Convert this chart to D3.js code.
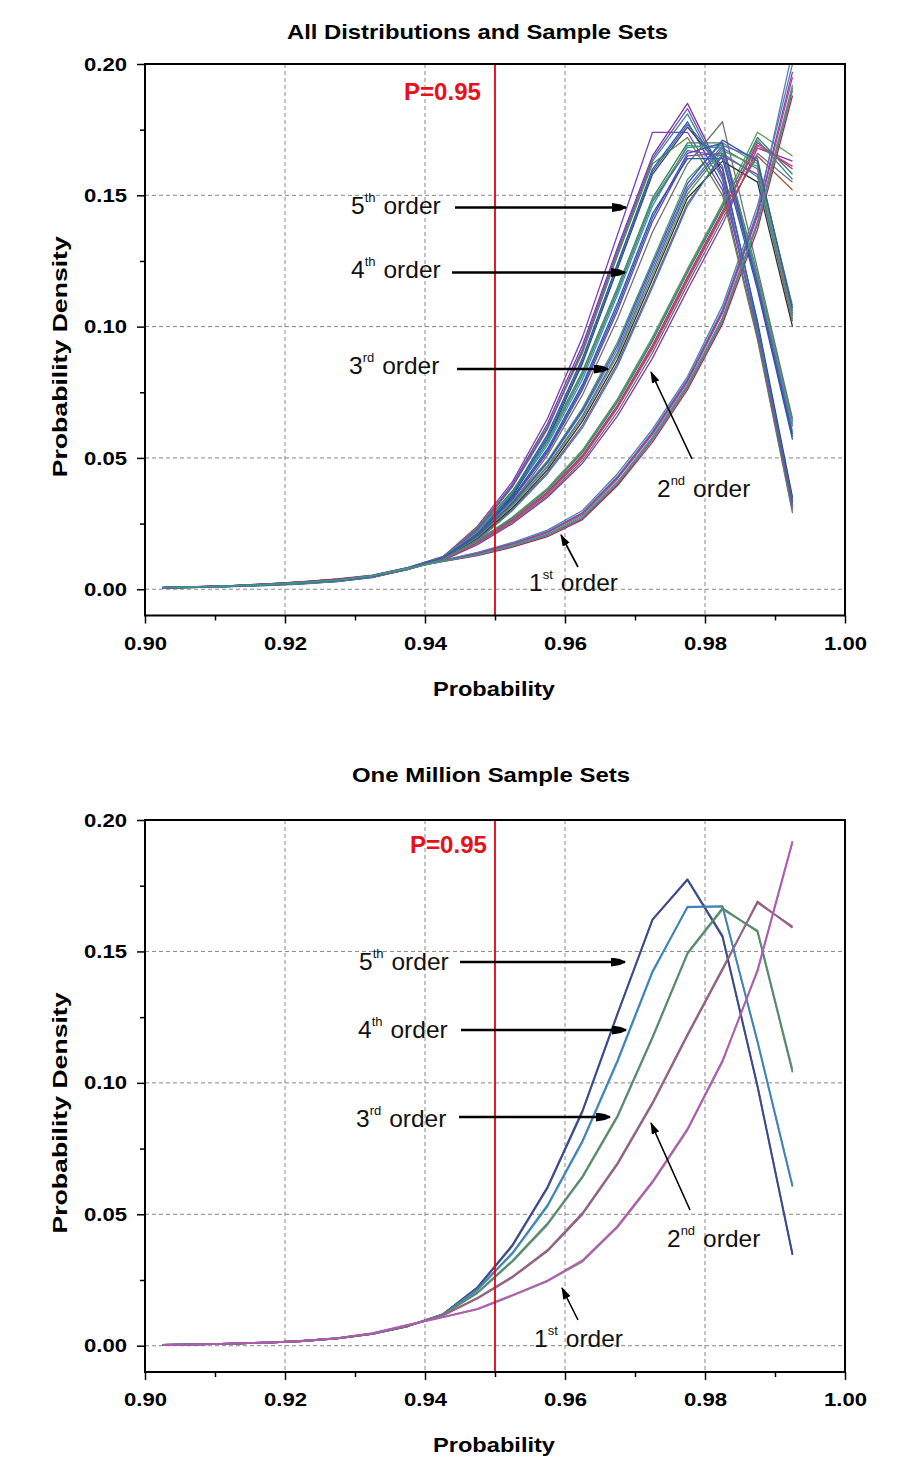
<!DOCTYPE html>
<html><head><meta charset="utf-8">
<script src="https://cdn.jsdelivr.net/npm/d3@7"></script>
<style>
body{margin:0;background:#fff}
svg{display:block}
text{font-family:"Liberation Sans",Arial,sans-serif}
</style></head>
<body><svg id="chart" width="907" height="1475"></svg>
<script>
// ---------- DATA ----------
const probability = [0.9025,0.9075,0.9125,0.9175,0.9225,0.9275,0.9325,0.9375,0.9425,0.9475,0.9525,0.9575,0.9625,0.9675,0.9725,0.9775,0.9825,0.9875,0.9925];
const xTicks = [0.90,0.92,0.94,0.96,0.98,1.00];
const xMinorTicks = [0.91,0.93,0.95,0.97,0.99];
const yTicks = [0.00,0.05,0.10,0.15,0.20];
const yMinorTicks = [0.025,0.075,0.125,0.175];
const xGrid = [0.92,0.94,0.96,0.98];
const yGrid = [0.00,0.05,0.10,0.15];
const markerP = 0.95;
const orderNums = ['5','4','3','2','1'];
const orderSups = ['th','th','rd','nd','st'];

// All distributions and sample sets (top panel)
const top5a = [0.0005,0.0008,0.0012,0.0017,0.0023,0.0032,0.0048,0.0078,0.0120,0.0230,0.0400,0.0630,0.0930,0.1300,0.1650,0.1850,0.1580,0.0980,0.0320];
const top5b = [0.0006,0.0009,0.0014,0.0019,0.0026,0.0036,0.0052,0.0082,0.0124,0.0215,0.0370,0.0590,0.0880,0.1240,0.1600,0.1780,0.1540,0.1000,0.0340];
const top5c = [0.0004,0.0007,0.0011,0.0015,0.0021,0.0029,0.0044,0.0076,0.0122,0.0240,0.0410,0.0650,0.0960,0.1350,0.1740,0.1740,0.1520,0.0960,0.0300];
const top5d = [0.0007,0.0010,0.0013,0.0020,0.0028,0.0038,0.0050,0.0080,0.0118,0.0205,0.0355,0.0570,0.0860,0.1220,0.1580,0.1760,0.1600,0.1020,0.0350];
const top5e = [0.0005,0.0007,0.0010,0.0014,0.0020,0.0030,0.0047,0.0077,0.0121,0.0225,0.0390,0.0610,0.0910,0.1280,0.1630,0.1810,0.1560,0.0990,0.0330];
const top5f = [0.0006,0.0008,0.0012,0.0018,0.0025,0.0034,0.0049,0.0079,0.0123,0.0235,0.0395,0.0620,0.0900,0.1270,0.1620,0.1720,0.1500,0.0950,0.0290];
const top5g = [0.0005,0.0008,0.0012,0.0016,0.0022,0.0031,0.0046,0.0077,0.0121,0.0228,0.0392,0.0615,0.0915,0.1290,0.1640,0.1830,0.1570,0.0970,0.0310];
const top5h = [0.0006,0.0009,0.0013,0.0018,0.0024,0.0033,0.0049,0.0079,0.0119,0.0212,0.0362,0.0580,0.0870,0.1230,0.1590,0.1770,0.1610,0.1010,0.0330];

const top4a = [0.0005,0.0008,0.0012,0.0017,0.0024,0.0033,0.0048,0.0077,0.0118,0.0215,0.0360,0.0550,0.0800,0.1120,0.1460,0.1690,0.1680,0.1180,0.0600];
const top4b = [0.0006,0.0009,0.0013,0.0018,0.0025,0.0035,0.0051,0.0080,0.0120,0.0205,0.0340,0.0520,0.0760,0.1060,0.1400,0.1650,0.1660,0.1160,0.0580];
const top4c = [0.0004,0.0007,0.0011,0.0016,0.0022,0.0030,0.0046,0.0075,0.0119,0.0225,0.0375,0.0570,0.0830,0.1150,0.1490,0.1700,0.1700,0.1200,0.0640];
const top4d = [0.0006,0.0009,0.0012,0.0017,0.0023,0.0031,0.0047,0.0079,0.0116,0.0200,0.0330,0.0510,0.0740,0.1030,0.1360,0.1620,0.1780,0.1220,0.0650];
const top4e = [0.0005,0.0008,0.0011,0.0016,0.0024,0.0034,0.0050,0.0078,0.0117,0.0210,0.0350,0.0535,0.0780,0.1090,0.1430,0.1640,0.1640,0.1140,0.0570];
const top4f = [0.0007,0.0010,0.0014,0.0020,0.0027,0.0037,0.0053,0.0081,0.0121,0.0220,0.0365,0.0560,0.0815,0.1135,0.1475,0.1670,0.1650,0.1170,0.0620];
const top4g = [0.0005,0.0008,0.0012,0.0017,0.0023,0.0032,0.0049,0.0078,0.0119,0.0218,0.0368,0.0565,0.0822,0.1142,0.1482,0.1682,0.1690,0.1190,0.0630];
const top4h = [0.0006,0.0009,0.0012,0.0018,0.0025,0.0034,0.0050,0.0079,0.0118,0.0208,0.0345,0.0528,0.0770,0.1075,0.1415,0.1660,0.1700,0.1150,0.0590];

const top3a = [0.0005,0.0008,0.0012,0.0017,0.0023,0.0032,0.0048,0.0077,0.0116,0.0200,0.0320,0.0470,0.0660,0.0900,0.1210,0.1520,0.1680,0.1600,0.1050];
const top3b = [0.0006,0.0009,0.0013,0.0019,0.0026,0.0035,0.0050,0.0079,0.0115,0.0190,0.0305,0.0445,0.0625,0.0860,0.1160,0.1470,0.1650,0.1580,0.1020];
const top3c = [0.0004,0.0007,0.0011,0.0016,0.0022,0.0031,0.0047,0.0076,0.0118,0.0210,0.0335,0.0490,0.0690,0.0940,0.1250,0.1560,0.1700,0.1620,0.1080];
const top3d = [0.0005,0.0009,0.0012,0.0018,0.0025,0.0034,0.0049,0.0078,0.0114,0.0195,0.0310,0.0455,0.0640,0.0875,0.1180,0.1490,0.1630,0.1550,0.1000];
const top3e = [0.0007,0.0010,0.0014,0.0019,0.0027,0.0036,0.0051,0.0080,0.0117,0.0205,0.0325,0.0480,0.0675,0.0915,0.1225,0.1530,0.1690,0.1640,0.1060];
const top3f = [0.0006,0.0008,0.0011,0.0015,0.0021,0.0030,0.0046,0.0075,0.0113,0.0185,0.0300,0.0440,0.0615,0.0850,0.1150,0.1460,0.1660,0.1570,0.1040];
const top3g = [0.0005,0.0008,0.0012,0.0017,0.0024,0.0033,0.0048,0.0078,0.0115,0.0198,0.0318,0.0465,0.0652,0.0890,0.1195,0.1505,0.1670,0.1610,0.1030];
const top3h = [0.0006,0.0009,0.0013,0.0018,0.0025,0.0034,0.0050,0.0079,0.0116,0.0203,0.0328,0.0485,0.0682,0.0928,0.1238,0.1545,0.1710,0.1630,0.1070];

const top2a = [0.0005,0.0008,0.0012,0.0017,0.0024,0.0033,0.0049,0.0076,0.0112,0.0180,0.0265,0.0370,0.0510,0.0700,0.0930,0.1190,0.1440,0.1700,0.1600];
const top2b = [0.0006,0.0009,0.0013,0.0018,0.0025,0.0036,0.0052,0.0079,0.0110,0.0175,0.0255,0.0355,0.0490,0.0675,0.0900,0.1160,0.1410,0.1660,0.1550];
const top2c = [0.0004,0.0007,0.0011,0.0016,0.0022,0.0031,0.0047,0.0075,0.0114,0.0185,0.0275,0.0385,0.0530,0.0725,0.0960,0.1220,0.1470,0.1740,0.1650];
const top2d = [0.0007,0.0010,0.0014,0.0020,0.0028,0.0038,0.0051,0.0078,0.0109,0.0170,0.0250,0.0350,0.0480,0.0660,0.0880,0.1140,0.1390,0.1680,0.1630];
const top2e = [0.0005,0.0008,0.0012,0.0016,0.0023,0.0032,0.0048,0.0077,0.0113,0.0182,0.0270,0.0378,0.0520,0.0712,0.0945,0.1205,0.1455,0.1720,0.1580];
const top2f = [0.0006,0.0009,0.0013,0.0019,0.0026,0.0035,0.0050,0.0076,0.0111,0.0178,0.0260,0.0362,0.0500,0.0690,0.0915,0.1175,0.1425,0.1650,0.1520];
const top2g = [0.0005,0.0008,0.0012,0.0017,0.0024,0.0034,0.0050,0.0077,0.0112,0.0179,0.0262,0.0366,0.0505,0.0695,0.0922,0.1182,0.1432,0.1690,0.1610];
const top2h = [0.0006,0.0009,0.0013,0.0018,0.0025,0.0035,0.0051,0.0078,0.0113,0.0183,0.0272,0.0380,0.0525,0.0718,0.0952,0.1212,0.1462,0.1710,0.1560];

const top1a = [0.0005,0.0008,0.0012,0.0017,0.0024,0.0034,0.0050,0.0079,0.0108,0.0135,0.0170,0.0215,0.0285,0.0420,0.0590,0.0790,0.1050,0.1420,0.1950];
const top1b = [0.0006,0.0009,0.0013,0.0019,0.0026,0.0036,0.0053,0.0081,0.0106,0.0130,0.0165,0.0205,0.0270,0.0400,0.0570,0.0770,0.1020,0.1390,0.1900];
const top1c = [0.0004,0.0007,0.0011,0.0016,0.0023,0.0032,0.0048,0.0077,0.0110,0.0140,0.0178,0.0225,0.0300,0.0440,0.0610,0.0810,0.1080,0.1460,0.2000];
const top1d = [0.0007,0.0010,0.0014,0.0020,0.0029,0.0039,0.0054,0.0082,0.0105,0.0128,0.0160,0.0200,0.0265,0.0395,0.0560,0.0760,0.1010,0.1370,0.1880];
const top1e = [0.0005,0.0008,0.0012,0.0018,0.0025,0.0035,0.0051,0.0080,0.0109,0.0138,0.0172,0.0220,0.0292,0.0430,0.0600,0.0800,0.1065,0.1440,0.2050];
const top1f = [0.0006,0.0008,0.0012,0.0017,0.0024,0.0033,0.0049,0.0078,0.0107,0.0133,0.0168,0.0210,0.0280,0.0410,0.0580,0.0780,0.1035,0.1400,0.1920];
const top1g = [0.0005,0.0008,0.0012,0.0018,0.0025,0.0035,0.0051,0.0080,0.0107,0.0136,0.0174,0.0218,0.0290,0.0425,0.0595,0.0795,0.1058,0.1430,0.1970];
const top1h = [0.0006,0.0009,0.0013,0.0018,0.0025,0.0035,0.0052,0.0080,0.0106,0.0131,0.0166,0.0208,0.0275,0.0405,0.0575,0.0775,0.1028,0.1395,0.1910];

// One million sample sets (bottom panel)
const mil5a = [0.0003,0.0005,0.0008,0.0012,0.0018,0.0028,0.0045,0.0074,0.0118,0.0220,0.0380,0.0600,0.0890,0.1260,0.1620,0.1775,0.1560,0.0990,0.0350];
const mil5b = [0.0003,0.0005,0.0008,0.0012,0.0018,0.0028,0.0046,0.0075,0.0119,0.0223,0.0384,0.0604,0.0895,0.1265,0.1622,0.1772,0.1555,0.0985,0.0345];
const mil4a = [0.0003,0.0005,0.0008,0.0012,0.0018,0.0028,0.0045,0.0074,0.0117,0.0212,0.0350,0.0530,0.0775,0.1080,0.1420,0.1670,0.1670,0.1160,0.0610];
const mil4b = [0.0003,0.0005,0.0008,0.0012,0.0018,0.0029,0.0046,0.0075,0.0118,0.0215,0.0354,0.0535,0.0780,0.1086,0.1425,0.1668,0.1672,0.1155,0.0605];
const mil3a = [0.0003,0.0005,0.0008,0.0012,0.0018,0.0028,0.0045,0.0074,0.0116,0.0200,0.0320,0.0460,0.0640,0.0870,0.1170,0.1490,0.1660,0.1580,0.1050];
const mil3b = [0.0003,0.0005,0.0008,0.0012,0.0018,0.0028,0.0045,0.0075,0.0117,0.0203,0.0324,0.0465,0.0645,0.0875,0.1175,0.1495,0.1665,0.1575,0.1040];
const mil2a = [0.0003,0.0005,0.0008,0.0012,0.0018,0.0028,0.0045,0.0074,0.0114,0.0180,0.0260,0.0360,0.0500,0.0690,0.0920,0.1180,0.1430,0.1690,0.1590];
const mil2b = [0.0003,0.0005,0.0008,0.0012,0.0018,0.0028,0.0046,0.0075,0.0115,0.0182,0.0263,0.0364,0.0505,0.0695,0.0925,0.1185,0.1435,0.1685,0.1595];
const mil1a = [0.0003,0.0005,0.0008,0.0012,0.0018,0.0029,0.0047,0.0078,0.0108,0.0138,0.0190,0.0245,0.0320,0.0450,0.0620,0.0820,0.1080,0.1430,0.1920];
const mil1b = [0.0003,0.0005,0.0008,0.0012,0.0018,0.0029,0.0048,0.0079,0.0109,0.0140,0.0193,0.0248,0.0325,0.0455,0.0625,0.0825,0.1085,0.1425,0.1915];

// ---------- SERIES TABLES ----------
const topGroups = [
  [top5a,top5b,top5c,top5d,top5e,top5f,top5g,top5h],
  [top4a,top4b,top4c,top4d,top4e,top4f,top4g,top4h],
  [top3a,top3b,top3c,top3d,top3e,top3f,top3g,top3h],
  [top2a,top2b,top2c,top2d,top2e,top2f,top2g,top2h],
  [top1a,top1b,top1c,top1d,top1e,top1f,top1g,top1h]
];
const topColors = [
  ['#6b3fa0','#3a4fb0','#7a3fc0','#404060','#2f8f8f','#5a8a3a','#8a4ab8','#2a6ab0'],
  ['#2a9ab0','#5f4fa8','#3f7f5f','#707070','#2060a0','#8050a0','#38a878','#4a4ab8'],
  ['#3d6fb0','#a03a8a','#4a9a7a','#303030','#7060c0','#2a8aa0','#5a9a4a','#3a5aa0'],
  ['#b03060','#6a6a9a','#5a9a5a','#8a3a9a','#307a8a','#9a5a3a','#c04080','#508a70'],
  ['#c040b0','#7a5ab0','#4a8a9a','#a03050','#5a7ac0','#6a9a4a','#9a3ab0','#3a9a8a']
];
const topSeries = [];
for (let i = 0; i < 8; i++) for (let o = 0; o < 5; o++) topSeries.push({values: topGroups[o][i], color: topColors[o][i]});

const milGroups = [[mil5a,mil5b],[mil4a,mil4b],[mil3a,mil3b],[mil2a,mil2b],[mil1a,mil1b]];
const milColors = [['#4f5f80','#3e4a8c'],['#3aa9b9','#4a7fb5'],['#6a9a84','#5a8a6a'],['#a8506e','#8a6a8a'],['#8c8c8c','#b45ab4']];
const milSeries = [];
for (let i = 0; i < 2; i++) for (let o = 0; o < 5; o++) milSeries.push({values: milGroups[o][i], color: milColors[o][i]});

// ---------- DRAWING ----------
const svg = d3.select('#chart');
const defs = svg.append('defs');
defs.append('marker').attr('id','headBig').attr('viewBox','0 0 15 9').attr('refX',14).attr('refY',4.5)
  .attr('markerWidth',15).attr('markerHeight',9).attr('markerUnits','userSpaceOnUse').attr('orient','auto')
  .append('path').attr('d','M0,0 L9,1.5 L15,4.5 L9,7.5 L0,9 Z').attr('fill','#000');
defs.append('marker').attr('id','headSmall').attr('viewBox','0 0 12 8').attr('refX',11).attr('refY',4)
  .attr('markerWidth',12).attr('markerHeight',8).attr('markerUnits','userSpaceOnUse').attr('orient','auto')
  .append('path').attr('d','M0,0 L12,4 L0,8 Z').attr('fill','#000');

const panels = [
  {id:'a', top:64, bottom:615.5, title:'All Distributions and Sample Sets', titleX:477.5, titleY:39, titleW:381,
   series: topSeries, lw: 1.3, pX:404, pY:100,
   ann:[{x:351,y:214,ax1:455,ay1:207.5,ax2:626,ay2:207.5,big:true},
        {x:351,y:278,ax1:452,ay1:272.5,ax2:625,ay2:272.5,big:true},
        {x:349,y:374,ax1:457,ay1:369,ax2:608,ay2:369,big:true},
        {x:657,y:497,ax1:692,ay1:459,ax2:651,ay2:372,big:false},
        {x:529,y:591,ax1:578,ay1:567,ax2:561,ay2:535,big:false}]},
  {id:'b', top:820, bottom:1372, title:'One Million Sample Sets', titleX:491, titleY:782, titleW:278,
   series: milSeries, lw: 1.8, pX:410, pY:853,
   ann:[{x:359,y:970,ax1:460,ay1:962,ax2:625,ay2:962,big:true},
        {x:358,y:1038,ax1:461,ay1:1030,ax2:626,ay2:1030,big:true},
        {x:356,y:1127,ax1:459,ay1:1117,ax2:610,ay2:1117,big:true},
        {x:667,y:1247,ax1:690,ay1:1210,ax2:651,ay2:1123,big:false},
        {x:534,y:1347,ax1:578,ay1:1320,ax2:562,ay2:1288,big:false}]}
];

panels.forEach(p => {
  const x = d3.scaleLinear().domain([0.90,1.00]).range([145,845]);
  const y = d3.scaleLinear().domain([-0.01,0.20]).range([p.bottom,p.top]);
  const g = svg.append('g');
  const clipId = 'clip-' + p.id;
  defs.append('clipPath').attr('id',clipId).append('rect')
    .attr('x',145).attr('y',p.top).attr('width',700).attr('height',p.bottom-p.top);

  // grid
  g.append('g').selectAll('line').data(xGrid).join('line')
    .attr('x1',d=>x(d)).attr('x2',d=>x(d)).attr('y1',p.top).attr('y2',p.bottom)
    .attr('stroke','#7a7a7a').attr('stroke-width',0.9).attr('stroke-dasharray','4,3');
  g.append('g').selectAll('line').data(yGrid).join('line')
    .attr('x1',145).attr('x2',845).attr('y1',d=>y(d)).attr('y2',d=>y(d))
    .attr('stroke','#7a7a7a').attr('stroke-width',0.9).attr('stroke-dasharray','4,3');

  // curves
  const line = d3.line().x((d,i)=>x(probability[i])).y(d=>y(d));
  g.append('g').attr('clip-path',`url(#${clipId})`).selectAll('path').data(p.series).join('path')
    .attr('d',d=>line(d.values)).attr('fill','none').attr('stroke',d=>d.color)
    .attr('stroke-width',p.lw).attr('stroke-linejoin','round');

  // red P line
  g.append('line').attr('x1',x(markerP)).attr('x2',x(markerP)).attr('y1',p.top).attr('y2',p.bottom)
    .attr('stroke','#e8000b').attr('stroke-width',1.8);
  g.append('text').attr('x',p.pX).attr('y',p.pY).attr('font-size',23).attr('font-weight','bold')
    .attr('fill','#e8101a').attr('textLength',77).attr('lengthAdjust','spacingAndGlyphs').text('P=' + markerP.toFixed(2));

  // frame
  g.append('rect').attr('x',145).attr('y',p.top).attr('width',700).attr('height',p.bottom-p.top)
    .attr('fill','none').attr('stroke','#000').attr('stroke-width',2);

  // axes
  const ax = g.append('g').attr('transform',`translate(0,${p.bottom})`)
    .call(d3.axisBottom(x).tickValues(xTicks).tickSize(8).tickPadding(13).tickFormat(d3.format('.2f')));
  const axm = g.append('g').attr('transform',`translate(0,${p.bottom})`)
    .call(d3.axisBottom(x).tickValues(xMinorTicks).tickSize(5).tickFormat(''));
  const ay = g.append('g').attr('transform','translate(145,0)')
    .call(d3.axisLeft(y).tickValues(yTicks).tickSize(8).tickPadding(10).tickFormat(d3.format('.2f')));
  const aym = g.append('g').attr('transform','translate(145,0)')
    .call(d3.axisLeft(y).tickValues(yMinorTicks).tickSize(5).tickFormat(''));
  [ax,axm,ay,aym].forEach(a => {
    a.select('.domain').remove();
    a.selectAll('line').attr('stroke','#000').attr('stroke-width',1.5);
    a.selectAll('text').attr('font-size',19).attr('font-weight','bold').attr('fill','#000')
      .attr('font-family','"Liberation Sans",Arial,sans-serif')
      .attr('textLength',43).attr('lengthAdjust','spacingAndGlyphs');
  });

  // titles
  g.append('text').attr('x',p.titleX).attr('y',p.titleY).attr('text-anchor','middle')
    .attr('font-size',21).attr('font-weight','bold').attr('textLength',p.titleW).attr('lengthAdjust','spacingAndGlyphs')
    .text(p.title);
  g.append('text').attr('x',494).attr('y',p.bottom + 80).attr('text-anchor','middle')
    .attr('font-size',21).attr('font-weight','bold').attr('textLength',122).attr('lengthAdjust','spacingAndGlyphs')
    .text('Probability');
  const cy = (p.top + p.bottom) / 2 + 17;
  g.append('text').attr('transform',`translate(67,${cy}) rotate(-90)`).attr('text-anchor','middle')
    .attr('font-size',21).attr('font-weight','bold').attr('textLength',241).attr('lengthAdjust','spacingAndGlyphs')
    .text('Probability Density');

  // annotations
  p.ann.forEach((a,i) => {
    const t = g.append('text').attr('x',a.x).attr('y',a.y).attr('font-size',24.5).attr('fill','#111');
    t.append('tspan').text(orderNums[i]);
    t.append('tspan').attr('font-size',13).attr('dy',-12).text(orderSups[i]);
    t.append('tspan').attr('dy',12).attr('dx',8).text('order');
    g.append('line').attr('x1',a.ax1).attr('y1',a.ay1).attr('x2',a.ax2).attr('y2',a.ay2)
      .attr('stroke','#000').attr('stroke-width',a.big ? 2.5 : 1.6)
      .attr('marker-end', a.big ? 'url(#headBig)' : 'url(#headSmall)');
  });
});
</script></body></html>
